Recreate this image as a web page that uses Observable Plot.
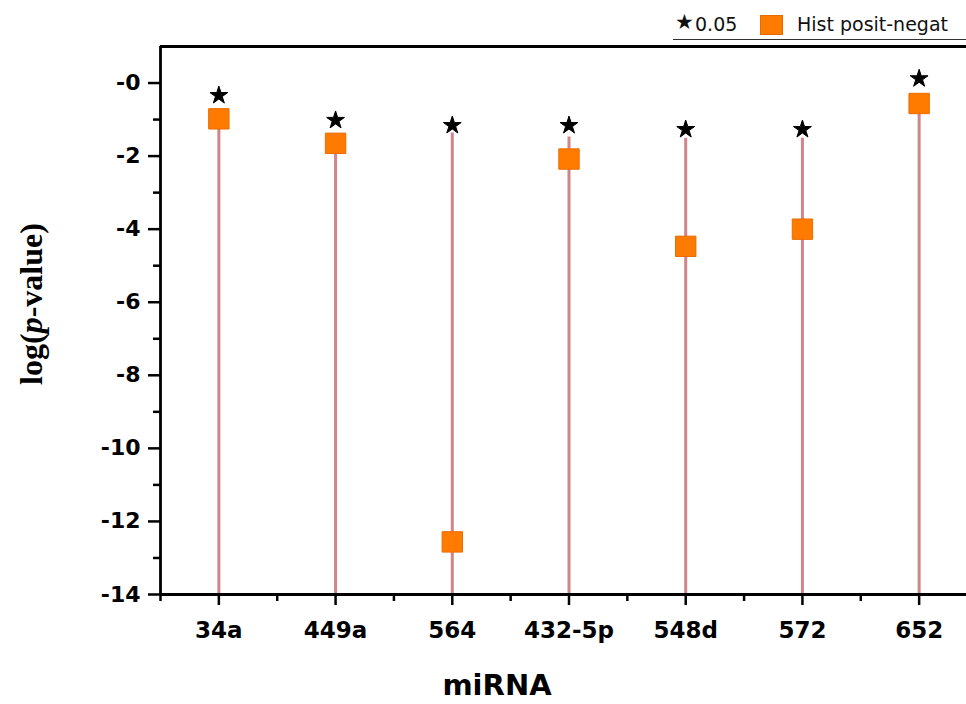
<!DOCTYPE html>
<html><head><meta charset="utf-8">
<script src="https://cdn.jsdelivr.net/npm/d3@7"></script>
<script src="https://cdn.jsdelivr.net/npm/@observablehq/plot@0.6"></script>
<style>
html,body{margin:0;padding:0;background:#fff;overflow:hidden;}
#wrap{position:relative;width:966px;height:704px;overflow:hidden;}
#wrap svg{position:absolute;left:0;top:0;}
.ylab{position:absolute;left:31px;top:304px;transform:translate(-50%,-50%) rotate(-90deg);white-space:nowrap;font-family:"Liberation Serif","Times New Roman",serif;font-weight:bold;font-size:32px;color:#000;}
.xlab{position:absolute;left:497px;top:668px;transform:translateX(-50%);white-space:nowrap;font-family:"DejaVu Sans",sans-serif;font-weight:bold;font-size:29px;color:#000;}
.legend{position:absolute;left:673px;top:9px;width:293px;height:30px;border-bottom:1.5px solid #333;font-family:"DejaVu Sans",sans-serif;font-size:19px;color:#111;}
.legend span{position:absolute;white-space:nowrap;}
.legend .sw{position:absolute;left:87px;top:6px;width:23px;height:20px;background:#ff7b00;border:1px solid #e86b00;box-sizing:border-box;}
</style></head><body>
<div id="wrap">
  <div class="legend">
    <span style="left:2px;top:1px;font-size:21px;">★</span>
    <span style="left:22px;top:4px;">0.05</span>
    <div class="sw"></div>
    <span style="left:124px;top:4px;">Hist posit-negat</span>
  </div>
  <div class="ylab">log(<i>p</i>-value)</div>
  <div class="xlab">miRNA</div>
</div>
<script>
const mirnas = ["34a","449a","564","432-5p","548d","572","652"];
const logP = [-0.98,-1.65,-12.56,-2.08,-4.47,-4.0,-0.56];
const stemTop = [-0.98,-1.65,-1.37,-1.48,-1.51,-1.51,-0.56];
const starPos = [-0.34,-1.02,-1.16,-1.16,-1.27,-1.27,0.12];
const yMajor = [-14,-12,-10,-8,-6,-4,-2,0];
const yMinor = [-13,-11,-9,-7,-5,-3,-1];
const xMinor = [-0.5,0.5,1.5,2.5,3.5,4.5,5.5,6.5];

const data = mirnas.map((m,i)=>({i, m, v: logP[i], top: stemTop[i], star: starPos[i]}));

const chart = Plot.plot({
  width: 966,
  height: 704,
  marginLeft: 160,
  marginRight: 0,
  marginTop: 46,
  marginBottom: 110,
  style: {fontFamily: "DejaVu Sans, sans-serif", color: "#000", background: "transparent", overflow: "hidden"},
  x: {type: "linear", domain: [-0.5, 6.5], range: [160, 977]},
  y: {domain: [-14, 1]},
  marks: [
    Plot.ruleX(data, {x: "i", y1: -14, y2: "top", stroke: "#d08589", strokeWidth: 3}),
    Plot.dot(data, {x: "i", y: "v", symbol: "square", r: 11.5, fill: "#ff7b00", stroke: "#e96c00", strokeWidth: 1}),
    Plot.dot(data, {x: "i", y: "star", symbol: "star", r: 5.6, fill: "#000", stroke: "#000", strokeWidth: 1, strokeLinejoin: "round"}),
    Plot.axisY({ticks: yMajor, tickSize: 12, tickPadding: 8, strokeWidth: 2.5, fontSize: 22, fontWeight: "bold", tickFormat: d => d === 0 ? "-0" : String(d), label: null}),
    Plot.axisY({ticks: yMinor, tickSize: 7, strokeWidth: 2.5, tickFormat: () => "", label: null}),
    Plot.axisX({ticks: d3.range(mirnas.length), tickSize: 11, tickPadding: 16, strokeWidth: 2.5, fontSize: 23, fontWeight: "bold", tickFormat: i => mirnas[i], label: null}),
    Plot.axisX({ticks: xMinor, tickSize: 7, strokeWidth: 2.5, tickFormat: () => "", label: null}),
    Plot.ruleX([-0.5], {stroke: "#000", strokeWidth: 2.8}),
    Plot.ruleY([-14], {stroke: "#000", strokeWidth: 2.8}),
    Plot.ruleY([1], {stroke: "#000", strokeWidth: 2.8})
  ]
});
document.getElementById("wrap").prepend(chart);
</script>
</body></html>
